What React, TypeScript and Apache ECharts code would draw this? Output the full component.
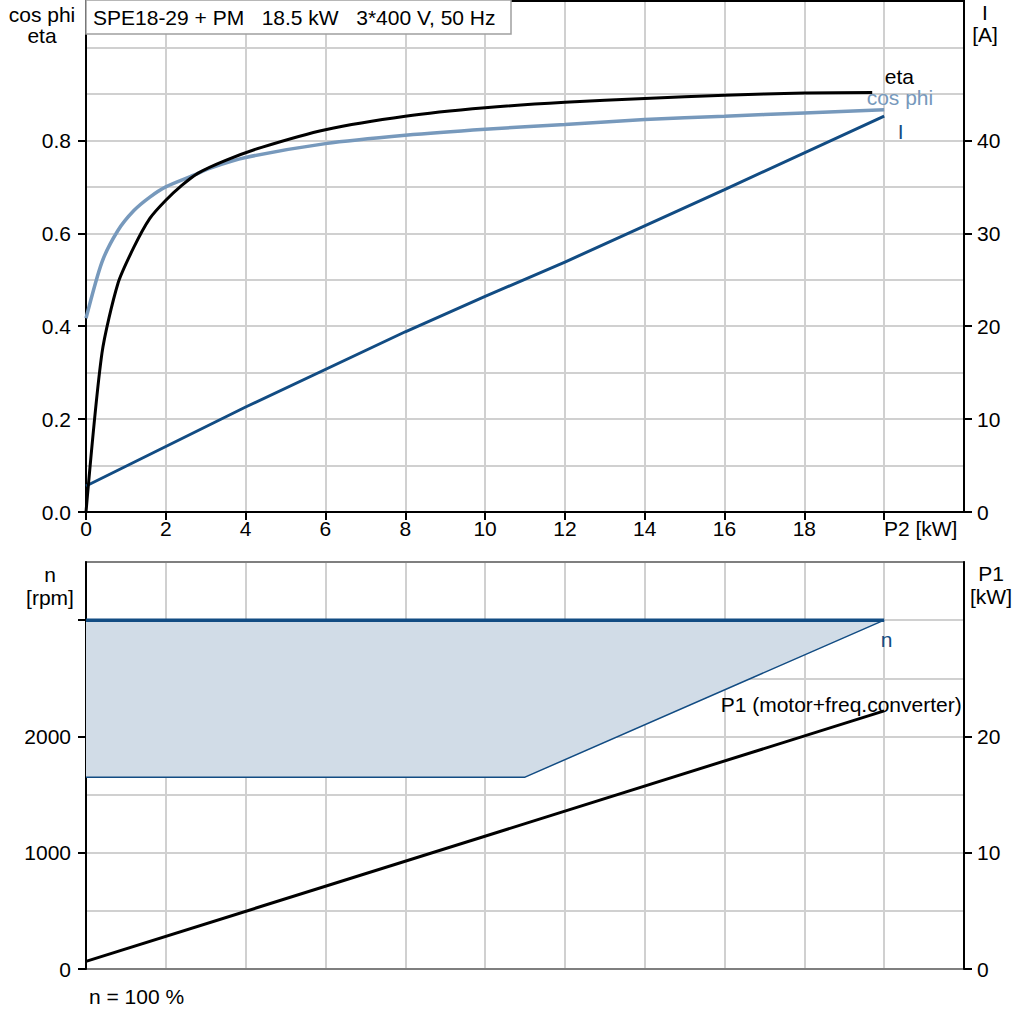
import React, { useEffect, useRef } from "react";
import * as echarts from "echarts";

const FONT = '"Liberation Sans", Arial, sans-serif';
const FS = 21;

const titleText = "SPE18-29 + PM   18.5 kW   3*400 V, 50 Hz";

// ticks / labels
const p2Ticks = [0, 2, 4, 6, 8, 10, 12, 14, 16, 18, 20];
const etaCosTicks = [0, 0.2, 0.4, 0.6, 0.8];
const currentTicks = [0, 10, 20, 30, 40];
const speedTicks = [0, 1000, 2000, 3000];
const speedLabels = [0, 1000, 2000];
const p1Ticks = [0, 10, 20];

// eta (efficiency) vs P2 [kW]
const etaX = [0, 0.4, 0.8, 1.2, 1.6, 2.0, 2.4, 2.8, 3.5, 4.4, 6, 8, 10, 12, 14, 16, 18, 19.7];
const etaY = [0, 0.342, 0.492, 0.57, 0.632, 0.671, 0.703, 0.729, 0.757, 0.785, 0.823, 0.852, 0.87, 0.882, 0.89, 0.897, 0.902, 0.903];

// cos phi vs P2
const cosX = [0, 0.4, 0.8, 1.2, 1.6, 2.0, 2.7, 3.1, 4, 6, 8, 10, 12, 14, 16, 18, 20];
const cosY = [0.417, 0.538, 0.606, 0.649, 0.678, 0.7, 0.725, 0.74, 0.763, 0.793, 0.811, 0.824, 0.834, 0.845, 0.852, 0.859, 0.866];

// current I [A] vs P2
const iX = [0, 4, 8, 10, 12, 16, 20];
const iY = [2.8, 11.3, 19.4, 23.2, 26.9, 34.7, 42.6];

// speed n [rpm]
const nX = [0, 20];
const nY = [3000, 3000];
const nMinX = [0, 11, 20];
const nMinY = [1650, 1650, 3000];

// P1 [kW]
const p1X = [0, 20];
const p1Y = [0.65, 22.2];

const zip = (xs: number[], ys: number[]) => xs.map((x, i) => [x, ys[i]]);

const C_BLACK = "#000000";
const C_COS = "#7799bc";
const C_I = "#124c83";
const C_FILL = "#d1dce7";
const C_GRID = "#d0d0d0";
const C_FRAME = "#7f7f7f";

function endMark(pt: number[], text: string, color: string, pos: number[], align: string) {
  return {
    symbol: "circle",
    symbolSize: 1,
    silent: true,
    itemStyle: { color: "rgba(0,0,0,0)" },
    label: {
      show: true,
      formatter: text,
      position: pos,
      align,
      verticalAlign: "middle",
      color,
      fontSize: FS,
      fontFamily: FONT,
      lineHeight: FS,
    },
    data: [{ coord: pt }],
  };
}

export default function App() {
  const ref = useRef<HTMLDivElement>(null);
  useEffect(() => {
    if (!ref.current) return;
    const chart = echarts.init(ref.current, null, { renderer: "svg" });
    const etaData = zip(etaX, etaY);
    const cosData = zip(cosX, cosY);
    const iData = zip(iX, iY);
    const nData = zip(nX, nY);
    const nMinData = zip(nMinX, nMinY);
    const p1Data = zip(p1X, p1Y);

    const axisLabelBase = { color: C_BLACK, fontSize: FS, fontFamily: FONT };
    const blackLine = { show: true, onZero: false, lineStyle: { color: C_BLACK, width: 2 } };
    const tickStyle = { lineStyle: { color: C_BLACK, width: 2 }, length: 8 };

    const option: any = {
      animation: false,
      textStyle: { fontFamily: FONT },
      grid: [
        { left: 86, top: 1, width: 878, height: 511, show: true, borderColor: C_BLACK, borderWidth: 2, backgroundColor: "transparent", z: 1, outerBoundsMode: "none" },
        { left: 86, top: 562, width: 878, height: 407, show: true, borderColor: C_FRAME, borderWidth: 2, backgroundColor: "transparent", z: 1, outerBoundsMode: "none" },
      ],
      xAxis: [
        {
          gridIndex: 0, type: "value", min: 0, max: 22, interval: 2, position: "bottom", z: 2,
          axisLine: blackLine,
          axisTick: { show: true, ...tickStyle, customValues: p2Ticks },
          axisLabel: {
            ...axisLabelBase, margin: 6, customValues: p2Ticks,
            formatter: (v: number) => (v === 20 ? "{p|P2 [kW]}" : String(v)),
            rich: { p: { color: C_BLACK, fontSize: FS, fontFamily: FONT, padding: [0, 0, 0, 73] } },
          },
          splitLine: { show: false },
        },
        {
          gridIndex: 0, type: "value", min: 0, max: 22, interval: 2, position: "top", z: 0,
          axisLine: { show: false }, axisTick: { show: false }, axisLabel: { show: false },
          splitLine: { show: true, lineStyle: { color: C_GRID, width: 2 } },
        },
        {
          gridIndex: 1, type: "value", min: 0, max: 22, interval: 2, position: "bottom", z: 0,
          axisLine: { show: false }, axisTick: { show: false }, axisLabel: { show: false },
          splitLine: { show: true, lineStyle: { color: C_GRID, width: 2 } },
        },
      ],
      yAxis: [
        {
          gridIndex: 0, type: "value", min: 0, max: 1.1, interval: 0.2, position: "left", z: 2,
          axisLine: blackLine,
          axisTick: { show: true, ...tickStyle, customValues: etaCosTicks },
          axisLabel: { ...axisLabelBase, margin: 15, customValues: etaCosTicks, formatter: (v: number) => v.toFixed(1) },
          splitLine: { show: false },
        },
        {
          gridIndex: 0, type: "value", min: 0, max: 55, interval: 10, position: "right", z: 2,
          axisLine: blackLine,
          axisTick: { show: true, ...tickStyle, customValues: currentTicks },
          axisLabel: { ...axisLabelBase, margin: 13, customValues: currentTicks, formatter: (v: number) => String(v) },
          splitLine: { show: false },
        },
        {
          gridIndex: 0, type: "value", min: 0, max: 1.1, interval: 0.1, position: "left", z: 0,
          axisLine: { show: false, onZero: false }, axisTick: { show: false }, axisLabel: { show: false },
          splitLine: { show: true, lineStyle: { color: C_GRID, width: 2 } },
        },
        {
          gridIndex: 1, type: "value", min: 0, max: 3500, interval: 1000, position: "left", z: 2,
          axisLine: blackLine,
          axisTick: { show: true, ...tickStyle, customValues: speedTicks },
          axisLabel: { ...axisLabelBase, margin: 15, customValues: speedLabels, formatter: (v: number) => String(v) },
          splitLine: { show: false },
        },
        {
          gridIndex: 1, type: "value", min: 0, max: 35, interval: 10, position: "right", z: 2,
          axisLine: blackLine,
          axisTick: { show: true, ...tickStyle, customValues: p1Ticks },
          axisLabel: { ...axisLabelBase, margin: 13, customValues: p1Ticks, formatter: (v: number) => String(v) },
          splitLine: { show: false },
        },
        {
          gridIndex: 1, type: "value", min: 0, max: 3500, interval: 500, position: "left", z: 0,
          axisLine: { show: false, onZero: false }, axisTick: { show: false }, axisLabel: { show: false },
          splitLine: { show: true, lineStyle: { color: C_GRID, width: 2 } },
        },
      ],
      series: [
        {
          name: "I", type: "line", xAxisIndex: 0, yAxisIndex: 1, data: iData, z: 3,
          showSymbol: false, lineStyle: { color: C_I, width: 3 }, itemStyle: { color: C_I },
          markPoint: endMark(iData[iData.length - 1], "I", C_I, [14, 16], "left"),
        },
        {
          name: "cos phi", type: "line", xAxisIndex: 0, yAxisIndex: 0, data: cosData, z: 3,
          smooth: 0.25,
          showSymbol: false, lineStyle: { color: C_COS, width: 3.5 }, itemStyle: { color: C_COS },
          markPoint: endMark(cosData[cosData.length - 1], "cos phi", C_COS, [-17, -12], "left"),
        },
        {
          name: "eta", type: "line", xAxisIndex: 0, yAxisIndex: 0, data: etaData, z: 3,
          smooth: 0.25,
          showSymbol: false, lineStyle: { color: C_BLACK, width: 3 }, itemStyle: { color: C_BLACK },
          markPoint: endMark(etaData[etaData.length - 1], "eta", C_BLACK, [13, -16], "left"),
        },
        {
          name: "n range", type: "custom", xAxisIndex: 2, yAxisIndex: 3, z: 3, silent: true,
          data: [[0, 3000]],
          renderItem: (params: any, api: any) => {
            if (params.dataIndex !== 0) return null;
            const upper = nData.map((p) => api.coord(p));
            const lower = nMinData.slice().reverse().map((p) => api.coord(p));
            return { type: "polygon", shape: { points: upper.concat(lower) }, style: { fill: C_FILL } };
          },
        },
        {
          name: "n min", type: "line", xAxisIndex: 2, yAxisIndex: 3, data: nMinData, z: 4,
          showSymbol: false, lineStyle: { color: C_I, width: 1.5 }, itemStyle: { color: C_I },
        },
        {
          name: "n", type: "line", xAxisIndex: 2, yAxisIndex: 3, data: nData, z: 4,
          showSymbol: false, lineStyle: { color: C_I, width: 3.5 }, itemStyle: { color: C_I },
          markPoint: endMark(nData[nData.length - 1], "n", C_I, [-3, 20], "left"),
        },
        {
          name: "P1", type: "line", xAxisIndex: 2, yAxisIndex: 4, data: p1Data, z: 4,
          showSymbol: false, lineStyle: { color: C_BLACK, width: 3 }, itemStyle: { color: C_BLACK },
          markPoint: endMark(p1Data[p1Data.length - 1], "P1 (motor+freq.converter)", C_BLACK, [78, -6], "right"),
        },
      ],
      graphic: [
        {
          type: "rect", z: 10, shape: { x: 86, y: 0, width: 425, height: 34 },
          style: { fill: "#ffffff", stroke: "#a0a0a0", lineWidth: 1.5 },
        },
        {
          type: "text", z: 11, x: 93, y: 17,
          style: { text: titleText, fill: C_BLACK, font: `${FS}px ${FONT}`, verticalAlign: "middle" },
        },
        {
          type: "text", z: 11, x: 42, y: 25,
          style: { text: "cos phi\neta", fill: C_BLACK, font: `${FS}px ${FONT}`, align: "center", verticalAlign: "middle", lineHeight: 21 },
        },
        {
          type: "text", z: 11, x: 985, y: 23,
          style: { text: "I\n[A]", fill: C_BLACK, font: `${FS}px ${FONT}`, align: "center", verticalAlign: "middle", lineHeight: 22 },
        },
        {
          type: "text", z: 11, x: 50, y: 586,
          style: { text: "n\n[rpm]", fill: C_BLACK, font: `${FS}px ${FONT}`, align: "center", verticalAlign: "middle", lineHeight: 23 },
        },
        {
          type: "text", z: 11, x: 991, y: 585,
          style: { text: "P1\n[kW]", fill: C_BLACK, font: `${FS}px ${FONT}`, align: "center", verticalAlign: "middle", lineHeight: 23 },
        },
        {
          type: "text", z: 11, x: 89, y: 996,
          style: { text: "n = 100 %", fill: C_BLACK, font: `${FS}px ${FONT}`, align: "left", verticalAlign: "middle" },
        },
      ],
    };
    chart.setOption(option);
    return () => chart.dispose();
  }, []);
  return (
    <div
      ref={ref}
      style={{ position: "fixed", left: 0, top: 0, width: 1024, height: 1024, background: "#ffffff" }}
    />
  );
}
